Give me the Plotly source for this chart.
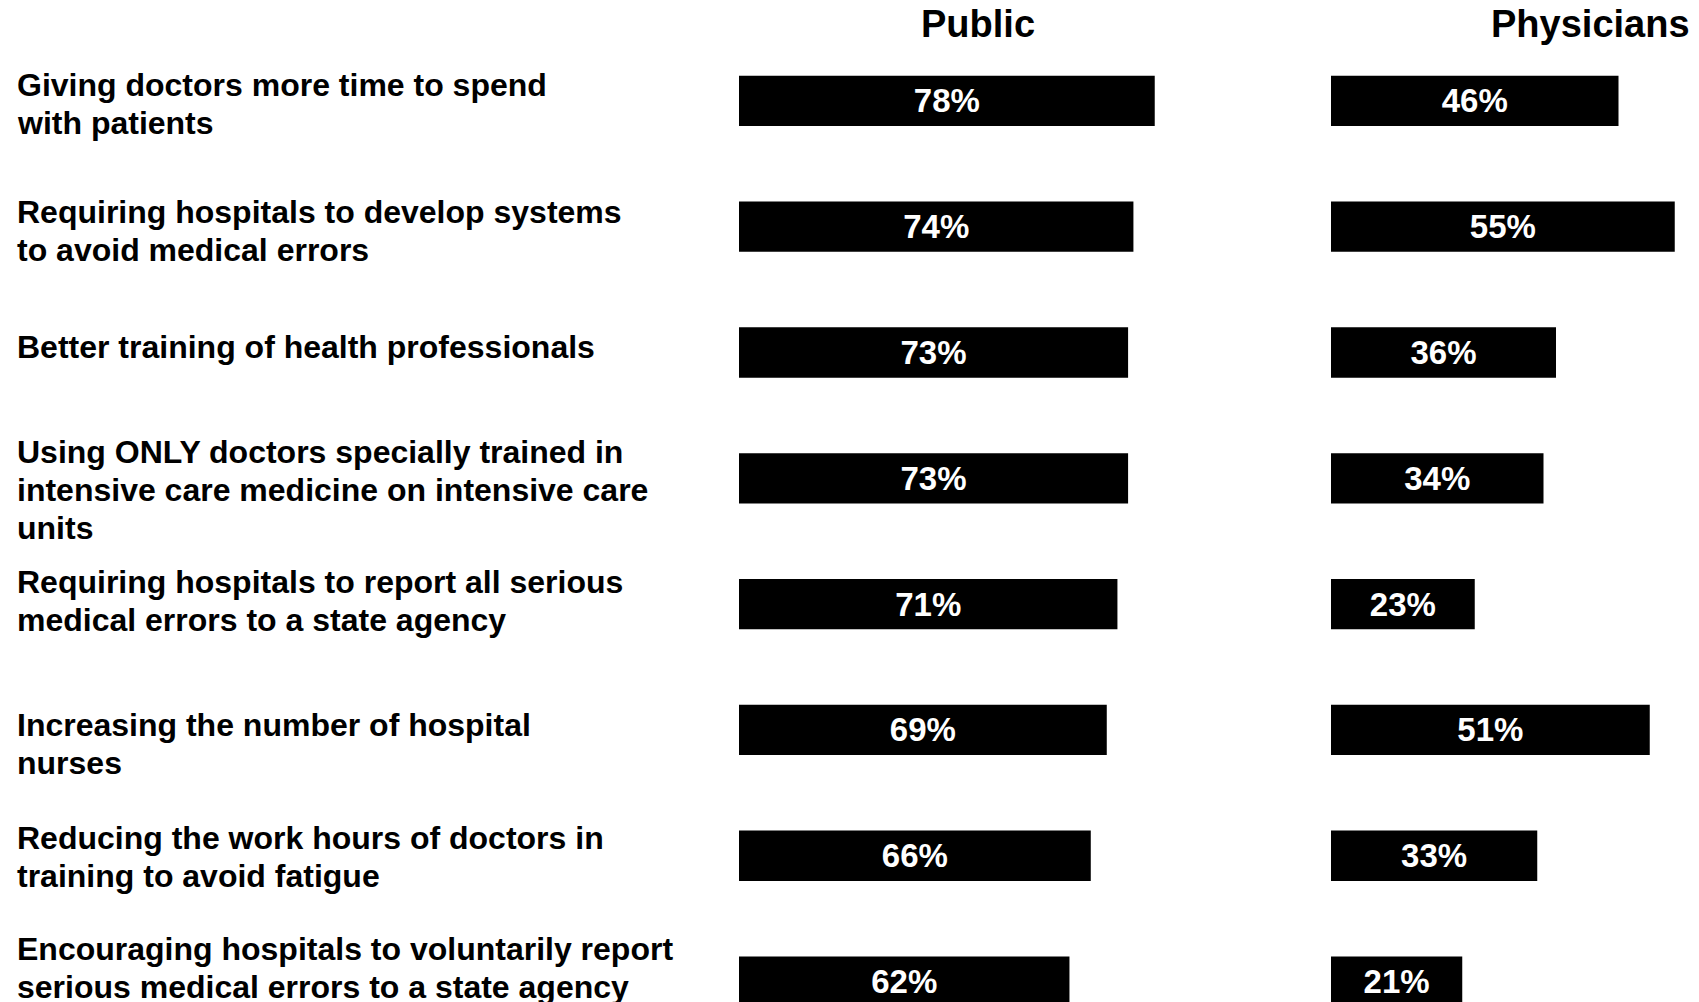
import plotly.graph_objects as go

# ---- data ----
categories = [
    "Giving doctors more time to spend with patients",
    "Requiring hospitals to develop systems to avoid medical errors",
    "Better training of health professionals",
    "Using ONLY doctors specially trained in intensive care medicine on intensive care units",
    "Requiring hospitals to report all serious medical errors to a state agency",
    "Increasing the number of hospital nurses",
    "Reducing the work hours of doctors in training to avoid fatigue",
    "Encouraging hospitals to voluntarily report serious medical errors to a state agency",
]
category_labels = [
    "Giving doctors more time to spend<br>with patients",
    "Requiring hospitals to develop systems<br>to avoid medical errors",
    "Better training of health professionals",
    "Using ONLY doctors specially trained in<br>intensive care medicine on intensive care<br>units",
    "Requiring hospitals to report all serious<br>medical errors to a state agency",
    "Increasing the number of hospital<br>nurses",
    "Reducing the work hours of doctors in<br>training to avoid fatigue",
    "Encouraging hospitals to voluntarily report<br>serious medical errors to a state agency",
]
public = [78, 74, 73, 73, 71, 69, 66, 62]
physicians = [46, 55, 36, 34, 23, 51, 33, 21]
group_titles = ["Public", "Physicians"]

# ---- style / layout ----
# page has an 8px body margin; figure sized to fit the 1699x1002 window
W, H = 1691, 994
FONT = "Liberation Sans, Arial, sans-serif"
label_shift = [-3, -4, 5, -12, 3, -14, -1, 14]
LINE_GAP = 38

fig = go.Figure()
for vals, xa in ((public, "x"), (physicians, "x2")):
    fig.add_trace(go.Bar(
        y=categories, x=vals, orientation="h", xaxis=xa, yaxis="y",
        width=0.4,
        marker=dict(color="#000000", line=dict(width=0)),
        text=[f"{v}%" for v in vals],
        textposition="inside", insidetextanchor="middle",
        textfont=dict(family=FONT, size=33, color="white", weight="bold"),
        constraintext="none",
        hoverinfo="skip", showlegend=False,
    ))

annotations = []
for cat, lab, dy in zip(categories, category_labels, label_shift):
    lines = lab.split("<br>")
    n = len(lines)
    for k, line in enumerate(lines):
        annotations.append(dict(
            text=line, x=7 / W, xref="paper", xanchor="left",
            y=cat, yref="y", yanchor="middle",
            yshift=dy - (k - (n - 1) / 2) * LINE_GAP,
            align="left", showarrow=False,
            font=dict(family=FONT, size=32, color="black", weight="bold"),
        ))
for title, cx in zip(group_titles, (970, 1582)):
    annotations.append(dict(
        text=title, x=cx / W, xref="paper", xanchor="center",
        y=1 - 16 / H, yref="paper", yanchor="middle",
        showarrow=False,
        font=dict(family=FONT, size=38, color="black", weight="bold"),
    ))

fig.update_layout(
    width=W, height=H,
    margin=dict(l=0, r=0, t=0, b=0),
    paper_bgcolor="white", plot_bgcolor="white",
    xaxis=dict(domain=[731 / W, (731 + 533) / W], range=[0, 100],
               visible=False, fixedrange=True),
    xaxis2=dict(domain=[1323 / W, 1.0], range=[0, 368 / 6.25],
                visible=False, fixedrange=True, anchor="y"),
    yaxis=dict(categoryorder="array", categoryarray=categories,
               range=[7.162, -0.7375], visible=False, fixedrange=True),
    annotations=annotations,
    bargap=0.6,
)

fig.write_html("out.html")
